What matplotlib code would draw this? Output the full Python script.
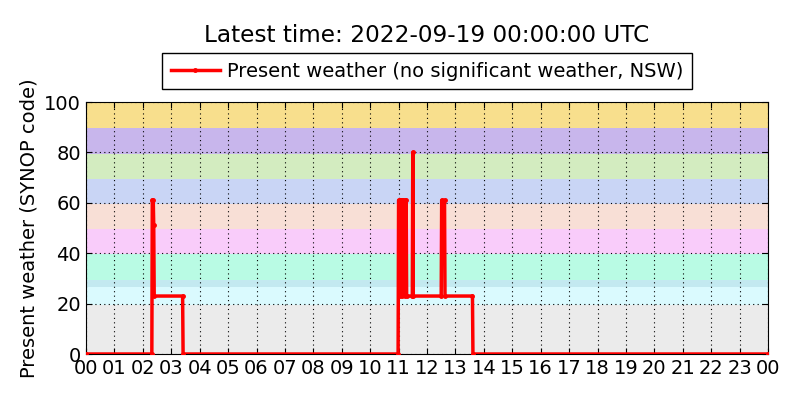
import numpy as np
import matplotlib
matplotlib.use('Agg')
import matplotlib.pyplot as plt

# observation times (minutes after 2022-09-18 00:00 UTC) and present weather code
times = [0, 139, 140, 142, 143, 144, 204, 205,
         659, 660, 662, 663, 665, 667, 668, 670, 673, 674, 676, 677,
         689, 690, 691, 750, 751, 757, 758, 816, 817, 1440]
codes = [0, 0, 61, 61, 51, 23, 23, 0,
         0, 61, 61, 23, 61, 61, 23, 61, 61, 23, 61, 23,
         23, 80, 23, 23, 61, 61, 23, 23, 0, 0]

# SYNOP code classes shown as background bands
band_lo = [-0.5, 19.5, 29.5, 39.5, 49.5, 59.5, 69.5, 79.5, 89.5, 26.5]
band_hi = [19.5, 29.5, 39.5, 49.5, 59.5, 69.5, 79.5, 89.5, 100.5, 29.5]
band_col = ['#ebebeb', '#dafafe', '#b9fbe4', '#f9ccfa', '#f8dfd6',
            '#c9d5f5', '#d3ecc0', '#c8b6ec', '#f8df8d', '#c3e9f0']

hour_labels = ['%02d' % (h % 24) for h in range(25)]

t = np.array(times, dtype=float) / 60.0
v = np.array(codes, dtype=float)

fig = plt.figure(figsize=(8, 4), dpi=100)
ax = fig.add_axes([0.1075, 0.115, 0.8525, 0.63])

for lo, hi, c in zip(band_lo, band_hi, band_col):
    ax.axhspan(lo, hi, color=c, lw=0, zorder=0)

ax.plot(t, v, color='red', lw=2.5, marker='.', ms=5,
        label='Present weather (no significant weather, NSW)', zorder=3)

ax.set_xlim(0, 24)
ax.set_ylim(0, 100)
ax.set_xticks(range(25))
ax.set_xticklabels(hour_labels)
ax.set_yticks(range(0, 101, 20))
ax.tick_params(direction='in', top=True, right=True, labelsize=14, length=4)
ax.grid(True, color='black', linestyle=(0, (1, 3)), lw=0.8)
ax.set_axisbelow(False)
ax.set_ylabel('Present weather (SYNOP code)', fontsize=14)

leg = ax.legend(loc='lower center', bbox_to_anchor=(0.5, 1.05), borderaxespad=0,
                fontsize=14, fancybox=False, framealpha=1, edgecolor='black',
                handlelength=2.5, handletextpad=0.35, borderpad=0.45,
                numpoints=1)
leg.get_frame().set_linewidth(1.0)

fig.text(0.53375, 0.9125, 'Latest time: 2022-09-19 00:00:00 UTC',
         fontsize=16.7, ha='center', va='center')

fig.savefig('out.png', dpi=100)
